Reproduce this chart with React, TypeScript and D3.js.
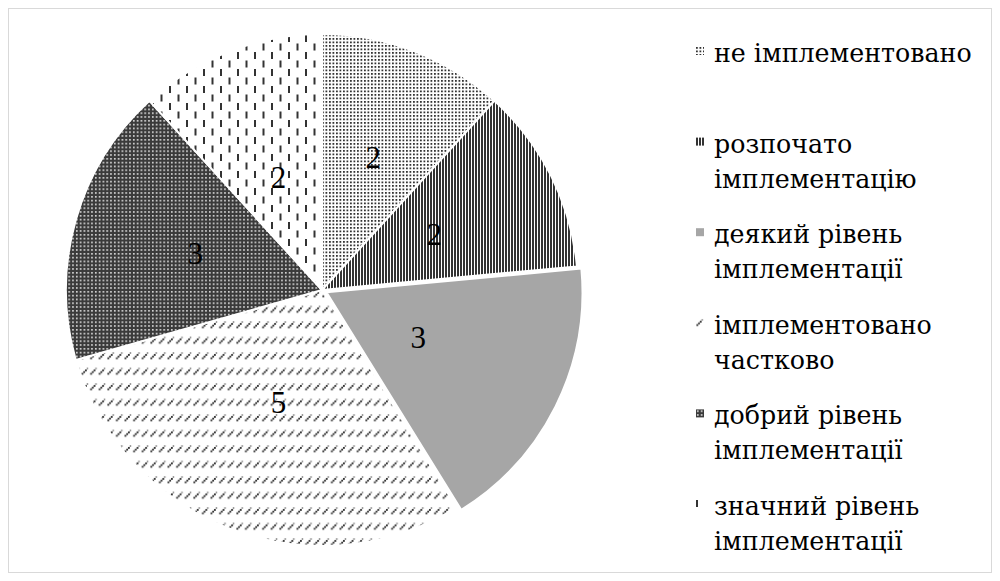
import React from "react";
import * as d3 from "d3";

const categories = [
  "не імплементовано",
  "розпочато імплементацію",
  "деякий рівень імплементації",
  "імплементовано частково",
  "добрий рівень імплементації",
  "значний рівень імплементації",
];
const legendLines = [
  ["не імплементовано"],
  ["розпочато", "імплементацію"],
  ["деякий рівень", "імплементації"],
  ["імплементовано", "частково"],
  ["добрий рівень", "імплементації"],
  ["значний рівень", "імплементації"],
];
const values = [2, 2, 3, 5, 3, 2];
const fills = ["url(#p1)", "url(#p2)", "#a6a6a6", "url(#p4)", "url(#p5)", "url(#p6)"];
const exploded = [0, 0, 5, 0, 0, 0];
// data-label distance from centre, as a fraction of the radius (Excel "best fit")
const labelRadius = [0.555, 0.49, 0.4, 0.47, 0.515, 0.47];

const W = 1000;
const H = 581;
const cx = 322;
const cy = 290;
const R = 256;
const FONT = '"Liberation Serif", "Times New Roman", serif';
const FONT_LEG = '"DejaVu Serif", "Liberation Serif", serif';

export default function App() {
  const pie = d3.pie<number>().sort(null).value((d) => d)(values);
  const arc = d3.arc<d3.PieArcDatum<number>>().innerRadius(0).outerRadius(R);
  const legendY = d3.scaleLinear().domain([0, 5]).range([62, 515]);

  return (
    <svg width={W} height={H} style={{ position: "absolute", left: 0, top: 0 }}>
      <defs>
        <pattern id="p1" patternUnits="userSpaceOnUse" width={3.5} height={3.5}>
          <rect width={3.5} height={3.5} fill="#fff" />
          <rect x={0} y={0} width={1.8} height={1.8} fill="#333" />
        </pattern>
        <pattern id="p2" patternUnits="userSpaceOnUse" width={3} height={3}>
          <rect width={3} height={3} fill="#fff" />
          <rect x={0} y={0} width={2} height={3} fill="#333" />
        </pattern>
        <pattern id="p4" patternUnits="userSpaceOnUse" width={8.6} height={15.5}>
          <rect width={8.6} height={15.5} fill="#fff" />
          <rect x={0.4} y={5.4} width={1.8} height={1.8} fill="#2a2a2a" />
          <rect x={2.1} y={3.7} width={1.8} height={1.8} fill="#2a2a2a" />
          <rect x={3.8} y={2.0} width={1.8} height={1.8} fill="#2a2a2a" />
          <rect x={5.5} y={0.3} width={1.4} height={1.4} fill="#666" />
        </pattern>
        <pattern id="p5" patternUnits="userSpaceOnUse" width={3.8} height={3.8}>
          <rect width={3.8} height={3.8} fill="#3a3a3a" />
          <rect x={1} y={1} width={1.6} height={1.6} fill="#e6e6e6" />
        </pattern>
        <pattern id="p6" patternUnits="userSpaceOnUse" width={17} height={17}>
          <rect width={17} height={17} fill="#fff" />
          <rect x={0} y={0} width={2} height={7} fill="#333" />
          <rect x={8.5} y={8.5} width={2} height={7} fill="#333" />
        </pattern>
      </defs>
      <rect x={8.5} y={8.5} width={983} height={564} fill="#fff" stroke="#d9d9d9" strokeWidth={1} />
      <g transform={`translate(${cx},${cy})`}>
        {pie.map((p, i) => {
          const mid = (p.startAngle + p.endAngle) / 2;
          const dx = Math.sin(mid) * exploded[i];
          const dy = -Math.cos(mid) * exploded[i];
          return (
            <path
              key={categories[i]}
              d={arc(p) || ""}
              transform={`translate(${dx},${dy})`}
              fill={fills[i]}
              stroke="#fff"
              strokeWidth={2}
            />
          );
        })}
        {pie.map((p, i) => {
          const mid = (p.startAngle + p.endAngle) / 2;
          const d = R * labelRadius[i] + exploded[i];
          const x = Math.sin(mid) * d;
          const y = -Math.cos(mid) * d;
          return (
            <text
              key={"l" + i}
              x={x}
              y={y}
              textAnchor="middle"
              dominantBaseline="central"
              style={{ fontFamily: FONT, fontSize: 31 }}
              fill="#000"
            >
              {values[i]}
            </text>
          );
        })}
      </g>
      <g>
        {legendLines.map((lines, i) => {
          const by = legendY(i);
          return (
            <g key={"leg" + i}>
              <g transform={`translate(696,${by - 15})`}>
                <rect x={0} y={0} width={8} height={8} fill={fills[i]} />
              </g>
              {lines.map((ln, j) => (
                <text
                  key={j}
                  x={714}
                  y={by + j * 35}
                  style={{ fontFamily: FONT_LEG, fontSize: 25.3 }}
                  fill="#000"
                >
                  {ln}
                </text>
              ))}
            </g>
          );
        })}
      </g>
    </svg>
  );
}
